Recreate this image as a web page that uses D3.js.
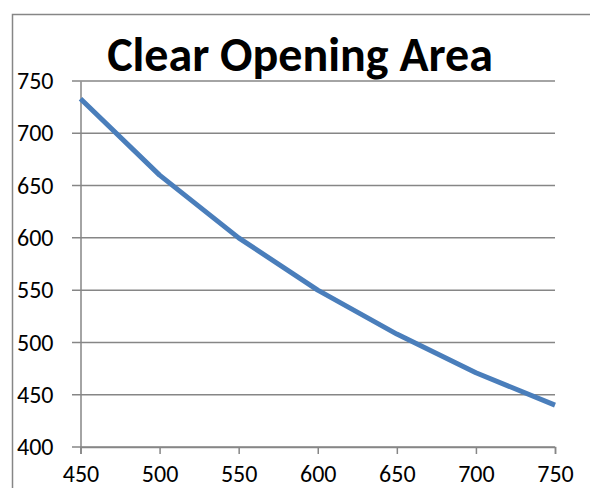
<!DOCTYPE html>
<html><head><meta charset="utf-8">
<script src="https://cdn.jsdelivr.net/npm/d3@7"></script>
<style>html,body{margin:0;padding:0;background:#fff;}svg{display:block;}</style>
</head><body>
<svg id="c" width="590" height="488"></svg>
<script>
const xValues = [450, 500, 550, 600, 650, 700, 750];
const areaValues = [733, 660, 600, 550, 508, 471, 440];
const xTicks = [450, 500, 550, 600, 650, 700, 750];
const yTicks = [400, 450, 500, 550, 600, 650, 700, 750];
const titleText = "Clear Opening Area";

const svg = d3.select("#c");
const font = "Carlito, Calibri, 'Open Sans', sans-serif";

// outer border (only top & left visible)
svg.append("rect").attr("x", 12.5).attr("y", 14.5).attr("width", 700).attr("height", 700)
  .attr("fill", "none").attr("stroke", "#868686").attr("stroke-width", 1.5);

const x = d3.scaleLinear().domain([450, 750]).range([80.5, 555]);
const y = d3.scaleLinear().domain([400, 750]).range([447, 81]);

// gridlines
svg.append("g").selectAll("line").data(yTicks).join("line")
  .attr("x1", 72).attr("x2", 555)
  .attr("y1", d => y(d)).attr("y2", d => y(d))
  .attr("stroke", "#868686").attr("stroke-width", 1.5);

// y axis
const yAxis = svg.append("g").attr("transform", "translate(80.5,0)")
  .call(d3.axisLeft(y).tickValues(yTicks).tickSize(0).tickPadding(27));
yAxis.select(".domain").attr("stroke", "#868686").attr("stroke-width", 1.5);
yAxis.selectAll("text").attr("font-family", font).attr("font-size", 24).attr("fill", "#000");

// x axis
const xAxis = svg.append("g").attr("transform", "translate(0,447)")
  .call(d3.axisBottom(x).tickValues(xTicks).tickSize(7).tickPadding(11));
xAxis.select(".domain").attr("stroke", "#868686").attr("stroke-width", 1.5);
xAxis.selectAll(".tick line").attr("stroke", "#868686").attr("stroke-width", 1.5);
xAxis.selectAll("text").attr("font-family", font).attr("font-size", 24).attr("fill", "#000");

// line
const line = d3.line().x((d, i) => x(xValues[i])).y(d => y(d));
svg.append("path").datum(areaValues).attr("d", line)
  .attr("fill", "none").attr("stroke", "#4A7EBB").attr("stroke-width", 5)
  .attr("stroke-linejoin", "round");

// title
svg.append("text").attr("x", 300).attr("y", 71).attr("text-anchor", "middle")
  .attr("font-family", font).attr("font-weight", "bold").attr("font-size", 48)
  .attr("fill", "#000").text(titleText);
</script>
</body></html>
